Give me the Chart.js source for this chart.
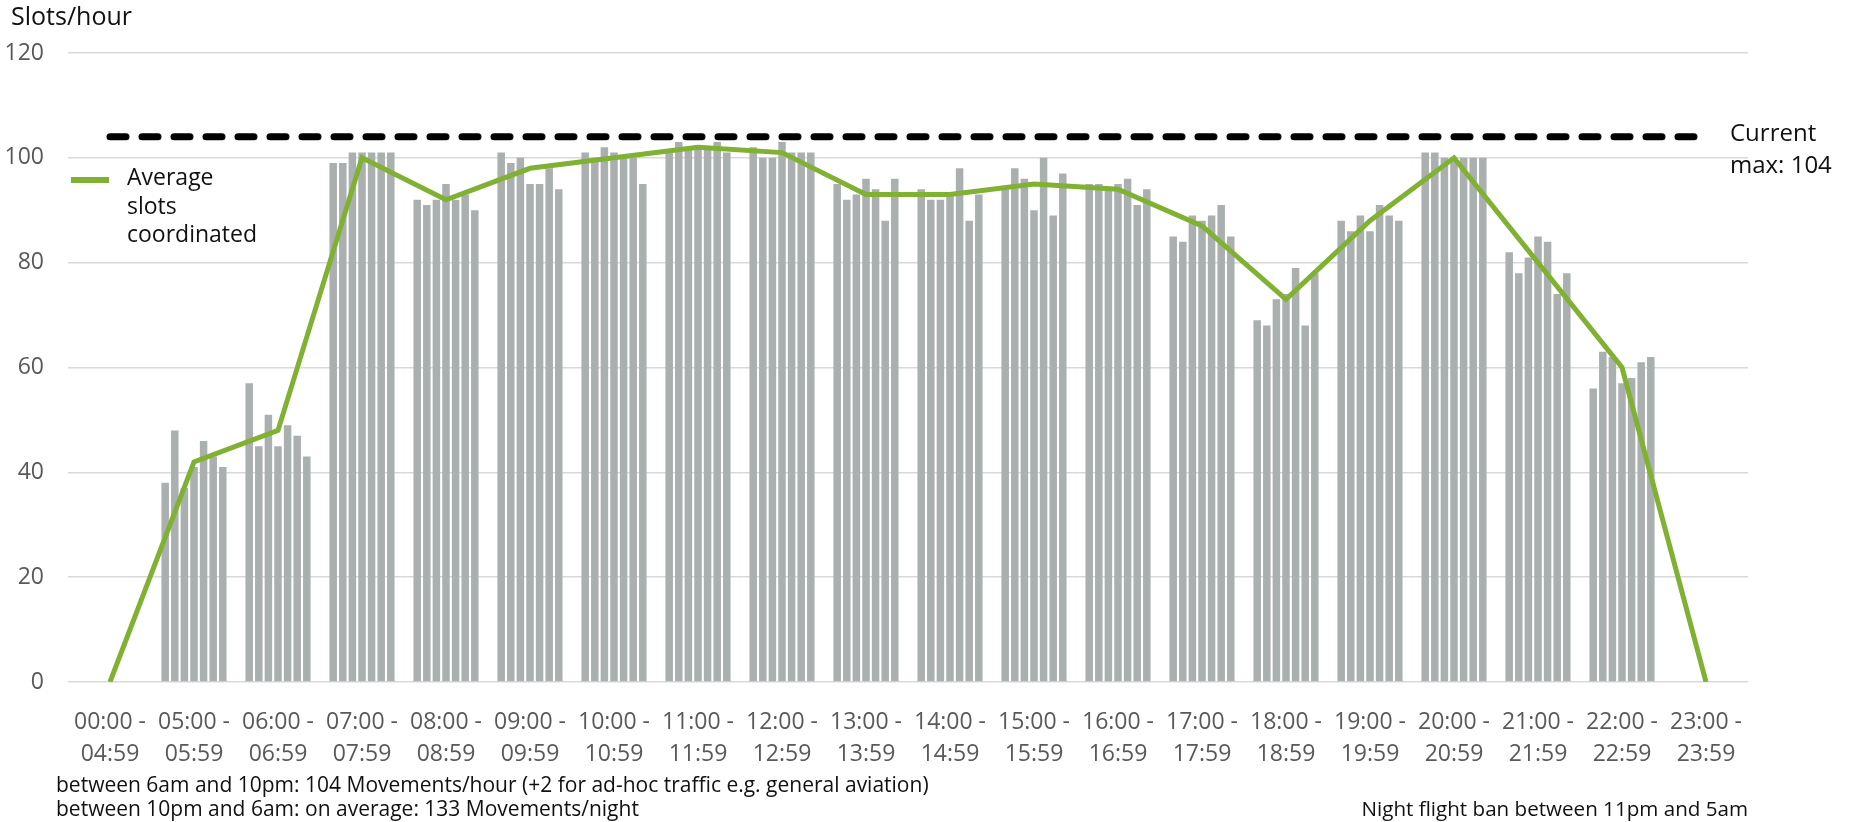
<!DOCTYPE html>
<html>
<head>
<meta charset="utf-8">
<title>Slots per hour</title>
<script src="https://cdn.jsdelivr.net/npm/chart.js@4.4.1/dist/chart.umd.min.js"></script>
<style>
  html, body { margin: 0; padding: 0; background: #ffffff; }
  #wrap { position: relative; width: 1854px; height: 822px; overflow: hidden;
          font-family: "Open Sans", "Noto Sans", sans-serif; color: #111; }
  #chart { position: absolute; left: 0; top: 0; }
  .txt { position: absolute; white-space: nowrap; }
  #legendSwatch { position: absolute; }
</style>
</head>
<body>
<div id="wrap">
  <canvas id="chart" width="1854" height="822"></canvas>
  <div class="txt" id="axisTitle" style="left:11px; top:3px; font-size:25px; line-height:1;">Slots/hour</div>
  <div id="legendSwatch" style="left:71px; top:177px; width:38px; height:6px;"></div>
  <div class="txt" id="legendText" style="left:127px; top:162px; font-size:23px; line-height:28.5px;"></div>
  <div class="txt" id="capLabel" style="left:1730px; top:116px; font-size:24px; line-height:32px;">Current<br>max: 104</div>
  <div class="txt" id="noteLeft" style="left:56px; top:772px; font-size:21px; line-height:24px;">
    between 6am and 10pm: 104 Movements/hour (+2 for ad-hoc traffic e.g. general aviation)<br>
    between 10pm and 6am: on average: 133 Movements/night
  </div>
  <div class="txt" id="noteRight" style="right:106px; top:796px; font-size:20.6px; line-height:24px; text-align:right;">Night flight ban between 11pm and 5am</div>
</div>
<script>
// Hour slots: start and end of each bucket (first bucket covers the night)
const slotStarts = ["00:00", "05:00", "06:00", "07:00", "08:00", "09:00", "10:00", "11:00", "12:00", "13:00",
                    "14:00", "15:00", "16:00", "17:00", "18:00", "19:00", "20:00", "21:00", "22:00", "23:00"];
const slotEnds   = ["04:59", "05:59", "06:59", "07:59", "08:59", "09:59", "10:59", "11:59", "12:59", "13:59",
                    "14:59", "15:59", "16:59", "17:59", "18:59", "19:59", "20:59", "21:59", "22:59", "23:59"];

// Coordinated slots per hour, one series per weekday
const day1 = [null, 38, 57,  99, 92, 101, 101, 101, 102, 95, 94, 94, 95, 85, 69, 88, 101, 82, 56, null];
const day2 = [null, 48, 45,  99, 91,  99, 100, 103, 100, 92, 92, 98, 95, 84, 68, 86, 101, 78, 63, null];
const day3 = [null, 37, 51, 101, 92, 100, 102, 102, 100, 93, 92, 96, 94, 89, 73, 89, 100, 81, 62, null];
const day4 = [null, 41, 45, 101, 95,  95, 101, 102, 103, 96, 93, 90, 95, 88, 74, 86, 100, 85, 57, null];
const day5 = [null, 46, 49, 101, 92,  95, 100, 102, 101, 94, 98, 100, 96, 89, 79, 91, 100, 84, 58, null];
const day6 = [null, 43, 47, 101, 93,  98, 100, 103, 101, 88, 88, 89, 91, 91, 68, 89, 100, 74, 61, null];
const day7 = [null, 41, 43, 101, 90,  94,  95, 101, 101, 96, 93, 97, 94, 85, 78, 88, 100, 78, 62, null];

// Average over the week
const averageSlots = [0, 42, 48, 100, 92, 98, 100, 102, 101, 93, 93, 95, 94, 87, 73, 88, 100, 80, 60, 0];

// Declared capacity limit
const currentMax = 104;

// Y axis ticks
const yTicks = [0, 20, 40, 60, 80, 100, 120];

const FONT = '"Open Sans", "Noto Sans", sans-serif';
const GREEN = '#80b133';
const BAR_GREY = '#aaafaf';
const AXIS_GREY = '#595959';

const labels = slotStarts.map((s, i) => [s + ' -', slotEnds[i]]);
const capLine = slotStarts.map(() => currentMax);
const weekSeries = [day1, day2, day3, day4, day5, day6, day7];
const dayNames = ['Mon', 'Tue', 'Wed', 'Thu', 'Fri', 'Sat', 'Sun'];

const averageLabel = 'Average slots coordinated';
document.getElementById('legendSwatch').style.background = GREEN;
document.getElementById('legendText').innerHTML = averageLabel.split(' ').join('<br>');

const datasets = [
  {
    type: 'line', label: 'Current max', data: capLine,
    borderColor: '#000000', borderWidth: 7, borderDash: [16, 16], borderCapStyle: 'round',
    pointRadius: 0, fill: false, tension: 0, order: 0
  },
  {
    type: 'line', label: averageLabel, data: averageSlots,
    borderColor: GREEN, borderWidth: 5, borderJoinStyle: 'miter',
    pointRadius: 0, fill: false, tension: 0, order: 1
  }
].concat(weekSeries.map((values, i) => ({
  type: 'bar', label: dayNames[i], data: values,
  backgroundColor: BAR_GREY, borderWidth: 0, order: 2
})));

new Chart(document.getElementById('chart').getContext('2d'), {
  type: 'bar',
  data: { labels: labels, datasets: datasets },
  options: {
    responsive: false,
    animation: false,
    devicePixelRatio: 1,
    layout: { padding: { top: 53, right: 106, left: 0, bottom: 0 } },
    plugins: { legend: { display: false }, tooltip: { enabled: false } },
    datasets: { bar: { categoryPercentage: 0.8, barPercentage: 0.78 } },
    scales: {
      x: {
        grid: { display: false },
        border: { display: false },
        ticks: {
          color: AXIS_GREY, font: { family: FONT, size: 23, lineHeight: 32 / 23 },
          padding: 16, maxRotation: 0, minRotation: 0, autoSkip: false
        },
        afterFit: (scale) => { scale.height = 140; }
      },
      y: {
        min: yTicks[0], max: yTicks[yTicks.length - 1],
        afterBuildTicks: (scale) => { scale.ticks = yTicks.map(v => ({ value: v })); },
        ticks: { color: AXIS_GREY, font: { family: FONT, size: 23 }, padding: 24 },
        grid: { color: '#d9d9d9', lineWidth: 1.5, drawTicks: false },
        border: { display: false },
        afterFit: (scale) => { scale.width = 68; }
      }
    }
  }
});
</script>
</body>
</html>
